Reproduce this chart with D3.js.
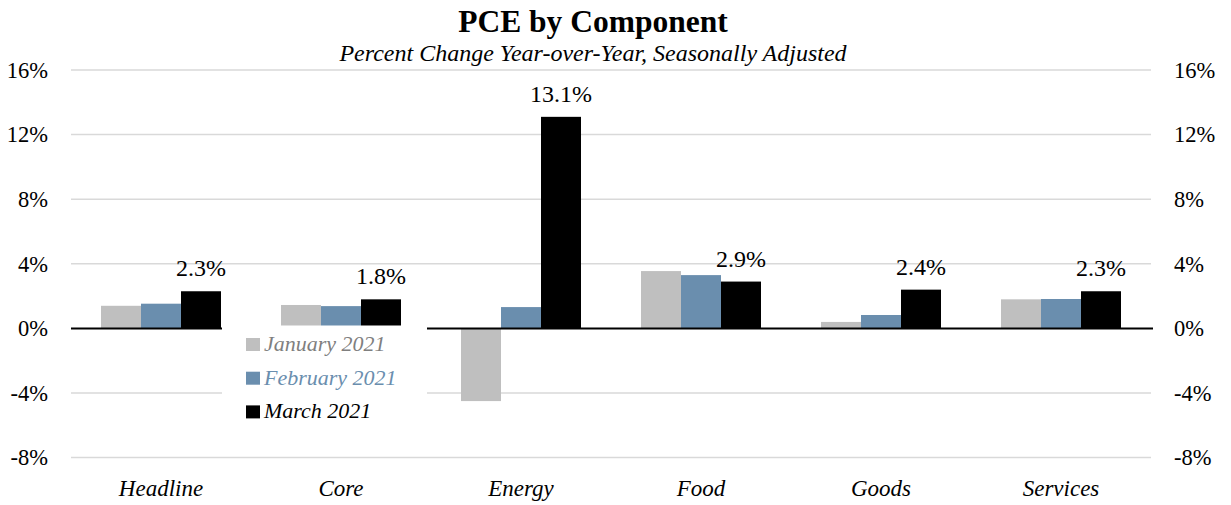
<!DOCTYPE html>
<head>
  <script src="https://cdn.jsdelivr.net/npm/d3@7"></script>
  <title>PCE by Component</title>
  <style>
    html, body {
      margin: 0;
      background-color: white;
    }
    svg text {
      font-family: "Liberation Serif", "Times New Roman", serif;
    }
  </style>
</head>
<div id="chart"></div>
<script>
  const categories = ["Headline", "Core", "Energy", "Food", "Goods", "Services"];
  const seriesNames = ["January 2021", "February 2021", "March 2021"];
  const jan = [1.4, 1.45, -4.5, 3.55, 0.4, 1.8];
  const feb = [1.53, 1.38, 1.32, 3.3, 0.83, 1.82];
  const mar = [2.3, 1.8, 13.1, 2.9, 2.4, 2.3];
  const yTicks = [-8, -4, 0, 4, 8, 12, 16];

  const barColors = ["#bfbfbf", "#6a8eae", "#000000"];
  const legendText = ["#7f7f7f", "#6a8eae", "#000000"];

  const width = 1231;
  const height = 505;

  const svg = d3.select("#chart").append("svg")
      .attr("width", width)
      .attr("height", height);

  const x0 = d3.scaleBand()
      .domain(categories)
      .range([71, 1151])
      .paddingInner(1 / 3)
      .paddingOuter(1 / 6);
  const x1 = d3.scaleBand()
      .domain(seriesNames)
      .range([0, x0.bandwidth()]);
  const y = d3.scaleLinear()
      .domain([-8, 16])
      .range([457.6, 70]);

  // gridlines
  svg.append("g")
      .selectAll("line")
      .data(yTicks.filter(t => t !== 0))
      .join("line")
        .attr("x1", 71)
        .attr("x2", 1151)
        .attr("y1", d => y(d))
        .attr("y2", d => y(d))
        .attr("stroke", "#d9d9d9")
        .attr("stroke-width", 1.5);

  // bars
  const rows = categories.map((c, i) => ({cat: c, vals: [jan[i], feb[i], mar[i]]}));
  const group = svg.append("g")
      .selectAll("g")
      .data(rows)
      .join("g")
        .attr("transform", d => `translate(${x0(d.cat)},0)`);
  group.selectAll("rect")
      .data(d => d.vals.map((v, k) => ({name: seriesNames[k], v: v, k: k})))
      .join("rect")
        .attr("x", d => x1(d.name))
        .attr("width", x1.bandwidth())
        .attr("y", d => y(Math.max(0, d.v)))
        .attr("height", d => Math.abs(y(d.v) - y(0)))
        .attr("fill", d => barColors[d.k]);

  // labels on march bars
  group.append("text")
      .attr("x", d => x1(seriesNames[2]) + x1.bandwidth() / 2)
      .attr("y", d => y(d.vals[2]) - 15)
      .attr("text-anchor", "middle")
      .attr("font-size", 24)
      .attr("fill", "#000")
      .text(d => d3.format(".1f")(d.vals[2]) + "%");

  // zero line
  svg.append("line")
      .attr("x1", 71)
      .attr("x2", 1153)
      .attr("y1", y(0))
      .attr("y2", y(0))
      .attr("stroke", "#000")
      .attr("stroke-width", 2);

  // axes
  const fmt = d => d + "%";
  const left = svg.append("g")
      .attr("transform", "translate(71,0)")
      .call(d3.axisLeft(y).tickValues(yTicks).tickFormat(fmt).tickSize(0).tickPadding(23));
  const right = svg.append("g")
      .attr("transform", "translate(1151,0)")
      .call(d3.axisRight(y).tickValues(yTicks).tickFormat(fmt).tickSize(0).tickPadding(23));
  const bottom = svg.append("g")
      .attr("transform", `translate(0,${y(-8)})`)
      .call(d3.axisBottom(x0).tickSize(0).tickPadding(22));
  [left, right, bottom].forEach(a => {
    a.select(".domain").remove();
    a.selectAll("text")
        .attr("font-family", "Liberation Serif")
        .attr("fill", "#000");
  });
  left.selectAll("text").attr("font-size", 22.5);
  right.selectAll("text").attr("font-size", 22.5);
  bottom.selectAll("text").attr("font-size", 23).attr("font-style", "italic");

  // legend
  const legend = svg.append("g");
  legend.append("rect")
      .attr("x", 222)
      .attr("y", 325.5)
      .attr("width", 205)
      .attr("height", 105)
      .attr("fill", "white");
  const item = legend.selectAll("g.item")
      .data(seriesNames)
      .join("g")
        .attr("class", "item")
        .attr("transform", (d, i) => `translate(246,${338 + i * 33.7})`);
  item.append("rect")
      .attr("width", 14)
      .attr("height", 13)
      .attr("fill", (d, i) => barColors[i]);
  item.append("text")
      .attr("x", 18)
      .attr("y", 13)
      .attr("font-size", 22)
      .attr("font-style", "italic")
      .attr("fill", (d, i) => legendText[i])
      .text(d => d);

  // titles
  svg.append("text")
      .attr("x", 593)
      .attr("y", 32)
      .attr("text-anchor", "middle")
      .attr("font-size", 31.5)
      .attr("font-weight", "bold")
      .text("PCE by Component");
  svg.append("text")
      .attr("x", 593)
      .attr("y", 61)
      .attr("text-anchor", "middle")
      .attr("font-size", 24)
      .attr("font-style", "italic")
      .text("Percent Change Year-over-Year, Seasonally Adjusted");
</script>
